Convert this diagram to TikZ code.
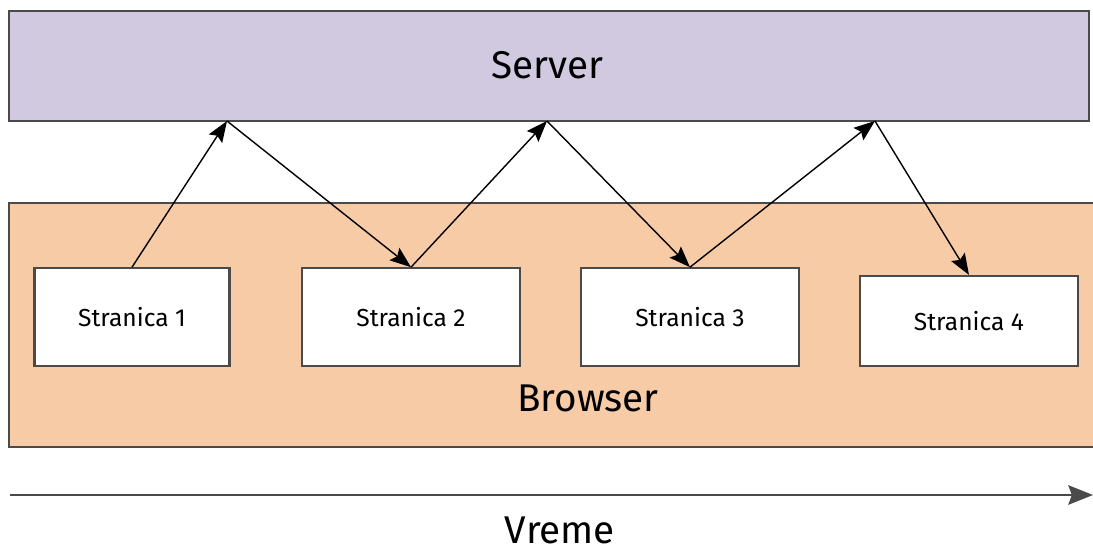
\documentclass[tikz,border=0pt]{standalone}
\usepackage{fontspec}
\setmainfont{Fira Sans}
\usetikzlibrary{arrows.meta}

\definecolor{serverfill}{HTML}{D1C9DF}
\definecolor{browserfill}{HTML}{F8CBA7}
\definecolor{edgegray}{HTML}{4A4A4A}

\begin{document}
\begin{tikzpicture}[x=0.02cm, y=-0.02cm,
  layer box/.style={draw=edgegray, line width=1.2pt, anchor=north west, inner sep=0pt},
  page node/.style={draw=edgegray, line width=1.2pt, fill=white, inner sep=0pt,
    minimum width=3.9cm, minimum height=1.95cm, font=\fontsize{14}{16}\selectfont},
  link/.style={-{Stealth[length=12pt,width=9pt,inset=2pt]}, line width=0.8pt},
  big label/.style={font=\fontsize{22}{26}\selectfont}]
\useasboundingbox (0,0) rectangle (1093,553);

% layers
\node[layer box, fill=serverfill, minimum width=21.6cm, minimum height=2.2cm] (server) at (8,10) {};
\node[layer box, fill=browserfill, minimum width=21.8cm, minimum height=4.88cm] (browser) at (8,202) {};
\node[big label] (servertxt) at (547,65) {Server};
\node[big label] (browsertxt) at (588,398) {Browser};

% pages
\node[page node] (p1) at (132,317) {Stranica 1};
\node[page node, minimum width=4.36cm] (p2) at (411,317) {Stranica 2};
\node[page node, minimum width=4.36cm] (p3) at (690,317) {Stranica 3};
\node[page node, minimum width=4.36cm, minimum height=1.8cm] (p4) at (969,321) {Stranica 4};

% where requests hit the server
\coordinate (s1) at (227,121);
\coordinate (s2) at (547,121);
\coordinate (s3) at (875,121);

\path
(p1.north) edge[link] (s1)
(s1)       edge[link] (p2.north)
(p2.north) edge[link] (s2)
(s2)       edge[link] (p3.north)
(p3.north) edge[link] (s3)
(s3)       edge[link] (p4.north)
;

% time axis
\coordinate (t0) at (10,495);
\coordinate (t1) at (1093,495);
\draw[-{Stealth[length=14pt,width=11pt,inset=2pt]}, line width=1.6pt, draw=edgegray] (t0) -- (t1);
\node[big label] (vreme) at (560,530) {Vreme};
\end{tikzpicture}
\end{document}
